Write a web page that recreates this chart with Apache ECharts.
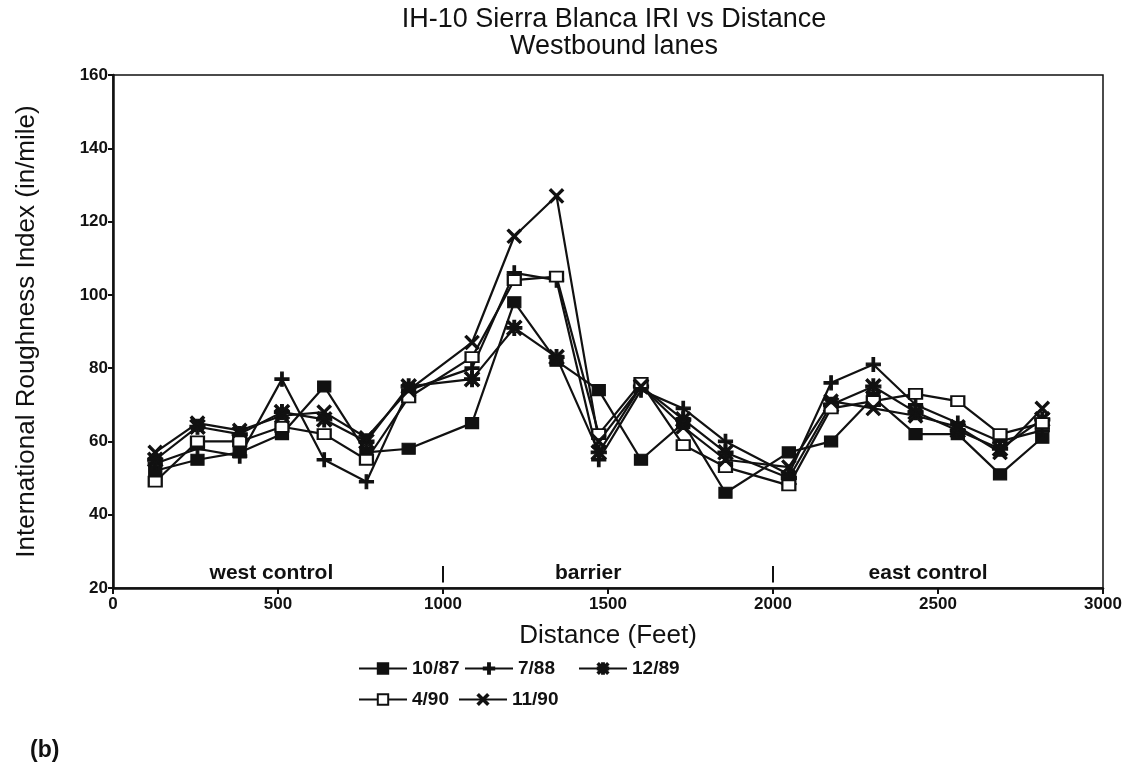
<!DOCTYPE html>
<html>
<head>
<meta charset="utf-8">
<title>IH-10 Sierra Blanca IRI vs Distance</title>
<script src="https://cdn.jsdelivr.net/npm/echarts@6/dist/echarts.min.js"></script>
<style>
  html, body { margin: 0; padding: 0; background: #fff; }
  #chart { width: 1138px; height: 771px; }
</style>
</head>
<body>
<div id="chart"></div>
<script>
  // distance (ft) of each test section: west control, barrier, east control
  var distance = [128, 256, 384, 512, 640, 768, 896,
                  1088, 1216, 1344, 1472, 1600, 1728, 1856,
                  2048, 2176, 2304, 2432, 2560, 2688, 2816]

  // IRI (in/mile) per survey date
  var iri_10_87 = [52, 55, 57, 62, 75, 57, 58, 65, 98, 82, 74, 55, 65, 46, 57, 60, 72, 62, 62, 51, 61]
  var iri_7_88  = [54, 58, 56, 77, 55, 49, 74, 80, 106, 104, 55, 74, 69, 60, 51, 76, 81, 70, 65, 60, 63]
  var iri_12_89 = [55, 64, 62, 68, 66, 60, 75, 77, 91, 83, 57, 75, 66, 57, 50, 70, 75, 68, 63, 58, 66]
  var iri_4_90  = [49, 60, 60, 64, 62, 55, 72, 83, 104, 105, 62, 76, 59, 53, 48, 69, 71, 73, 71, 62, 65]
  var iri_11_90 = [57, 65, 63, 67, 68, 61, 74, 87, 116, 127, 60, 75, 64, 55, 53, 71, 69, 67, 64, 57, 69]

  var seriesNames = ['10/87', '7/88', '12/89', '4/90', '11/90']

  // axis ranges
  var xMin = 0, xMax = 3000, xStep = 500
  var yMin = 20, yMax = 160, yStep = 20

  // section annotations along the bottom of the plot
  var sectionNames = ['west control', 'barrier', 'east control']
  var sectionCenters = [480, 1440, 2470]
  var sectionBounds = [1000, 2000]

  var PLUS = 'path://M4.1,0H5.9V4.1H10V5.9H5.9V10H4.1V5.9H0V4.1H4.1Z'
  var CROSS = 'path://M0,1.1L1.1,0L5,3.9L8.9,0L10,1.1L6.1,5L10,8.9L8.9,10L5,6.1L1.1,10L0,8.9L3.9,5Z'
  var STAR = PLUS + ' M0,1.1L1.1,0L5,3.9L8.9,0L10,1.1L6.1,5L10,8.9L8.9,10L5,6.1L1.1,10L0,8.9L3.9,5Z'

  var FONT = 'Liberation Sans, Arial, sans-serif'
  var INK = '#111'

  var chart = echarts.init(document.getElementById('chart'))

  const pairs = (vals) => distance.map((d, i) => [d, vals[i]])

  const makeSeries = (name, vals, symbol, size) => ({
    name: name,
    type: 'line',
    data: pairs(vals),
    symbol: symbol,
    symbolSize: size,
    showAllSymbol: true,
    lineStyle: { color: INK, width: 2.2 },
    itemStyle: { color: INK, borderColor: INK, borderWidth: 1.2 },
    emphasis: { disabled: true },
  })

  // one legend box per entry, laid out in two rows like the original key
  const legendItem = (name, left, top) => ({
    data: [name],
    left: left,
    top: top,
    itemWidth: 48,
    itemHeight: 13,
    textStyle: { fontFamily: FONT, fontSize: 19, fontWeight: 'bold', color: INK },
  })

  chart.setOption({
    animation: false,
    backgroundColor: '#fff',
    title: [
      {
        text: '(b)',
        left: 25,
        top: 734,
        textStyle: { fontFamily: FONT, fontSize: 23, fontWeight: 'bold', color: INK },
      },
    ],
    graphic: [
      {
        type: 'text',
        x: 614,
        y: 6,
        style: {
          text: 'IH-10 Sierra Blanca IRI vs Distance\nWestbound lanes',
          fill: INK,
          font: '27px ' + FONT,
          textAlign: 'center',
          textVerticalAlign: 'top',
          lineHeight: 27,
        },
      },
    ],
    grid: {
      left: 113,
      right: 35,
      top: 75,
      bottom: 183,
      show: true,
      borderColor: INK,
      borderWidth: 1.5,
      containLabel: false,
    },
    legend: [
      legendItem(seriesNames[0], 353, 654),
      legendItem(seriesNames[1], 459, 654),
      legendItem(seriesNames[2], 573, 654),
      legendItem(seriesNames[3], 353, 685),
      legendItem(seriesNames[4], 453, 685),
    ],
    xAxis: {
      type: 'value',
      min: xMin,
      max: xMax,
      interval: xStep,
      name: 'Distance (Feet)',
      nameLocation: 'middle',
      nameGap: 35,
      nameTextStyle: { fontFamily: FONT, fontSize: 26, color: INK },
      axisLine: { show: true, lineStyle: { color: INK, width: 2.5 } },
      axisTick: { show: true, length: 6, lineStyle: { color: INK, width: 2 } },
      axisLabel: {
        fontFamily: FONT,
        fontSize: 17,
        fontWeight: 'bold',
        color: INK,
        margin: 8,
        formatter: (v) => String(v),
      },
      splitLine: { show: false },
    },
    yAxis: {
      type: 'value',
      min: yMin,
      max: yMax,
      interval: yStep,
      name: 'International Roughness Index (in/mile)',
      nameLocation: 'middle',
      nameRotate: 90,
      nameGap: 73,
      nameTextStyle: { fontFamily: FONT, fontSize: 26, color: INK },
      axisLine: { show: true, lineStyle: { color: INK, width: 2.5 } },
      axisTick: { show: true, length: 5, lineStyle: { color: INK, width: 2 } },
      axisLabel: { fontFamily: FONT, fontSize: 17, fontWeight: 'bold', color: INK, margin: 5 },
      splitLine: { show: false },
    },
    series: [
      makeSeries(seriesNames[0], iri_10_87, 'rect', [13, 11]),
      makeSeries(seriesNames[1], iri_7_88, PLUS, 14),
      makeSeries(seriesNames[2], iri_12_89, STAR, 15),
      makeSeries(seriesNames[3], iri_4_90, 'emptyRect', [13, 10]),
      makeSeries(seriesNames[4], iri_11_90, CROSS, 14),
      {
        name: 'sections',
        type: 'line',
        data: [],
        silent: true,
        markLine: {
          silent: true,
          symbol: ['none', 'none'],
          label: { show: false },
          lineStyle: { color: INK, width: 2, type: 'solid' },
          data: sectionBounds.map((b) => [{ coord: [b, 21.5] }, { coord: [b, 26] }]),
        },
        markPoint: {
          silent: true,
          symbol: 'circle',
          symbolSize: 0,
          label: {
            show: true,
            formatter: '{b}',
            fontFamily: FONT,
            fontSize: 21,
            fontWeight: 'bold',
            color: INK,
          },
          data: sectionNames.map((n, i) => ({ name: n, coord: [sectionCenters[i], 24] })),
        },
      },
    ],
  })
</script>
</body>
</html>
